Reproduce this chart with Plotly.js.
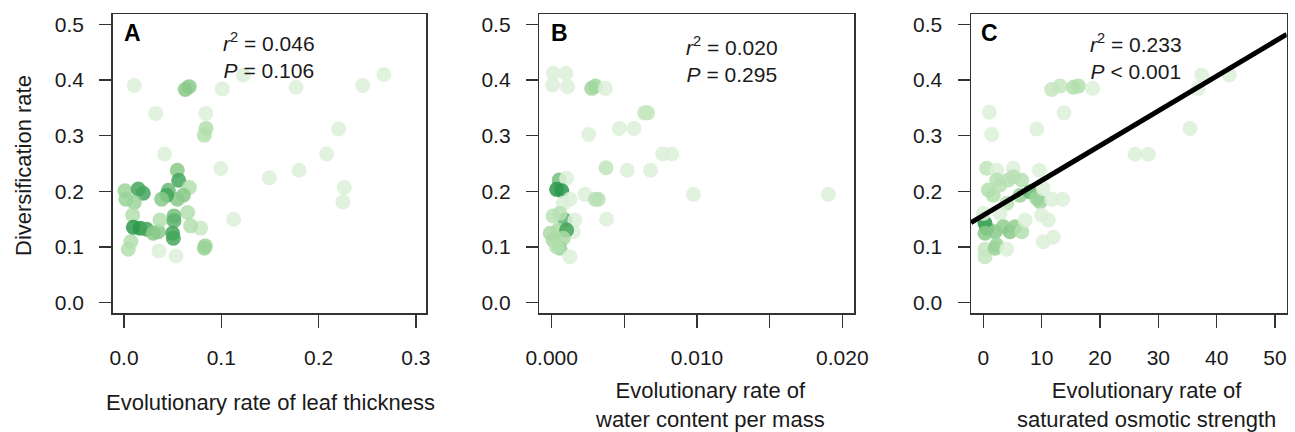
<!DOCTYPE html>
<html>
<head>
<meta charset="utf-8">
<script src="https://cdn.plot.ly/plotly-3.0.1.min.js"></script>
<style>
  html, body { margin: 0; padding: 0; background: #fff; }
  #chart { width: 1295px; height: 432px; }
</style>
</head>
<body>
<div id="chart"></div>
<script>
// ---------- DATA ----------
// Panel A: evolutionary rate of leaf thickness
const leafThicknessRate = [0.0106,0.063,0.067,0.101,0.1226,0.1768,0.2453,0.2672,0.0326,0.084,0.0843,0.0826,0.2206,0.0418,0.2083,0.0994,0.1494,0.1799,0.2264,0.225,0.1127,0.0534,0.036,0.0044,0.0072,0.0826,0.0835,0.0788,0.0685,0.0654,0.0548,0.0562,0.0672,0.061,0.0548,0.0456,0.0439,0.0387,0.001,0.002,0.0147,0.0198,0.0106,0.0089,0.0096,0.0165,0.0233,0.0301,0.0353,0.037,0.0514,0.0514,0.050,0.0507];
const divRateA = [0.390,0.383,0.388,0.384,0.409,0.387,0.390,0.410,0.340,0.340,0.313,0.301,0.312,0.267,0.267,0.241,0.2245,0.238,0.207,0.181,0.150,0.084,0.093,0.096,0.110,0.098,0.102,0.134,0.138,0.162,0.238,0.220,0.207,0.193,0.186,0.202,0.193,0.186,0.201,0.186,0.204,0.1965,0.180,0.1575,0.1354,0.1336,0.1318,0.1246,0.1275,0.1485,0.1557,0.1473,0.1246,0.1157];
const shadeA = [0,0.6,0.6,0,0,0,0,0,0,0,0.35,0.35,0,0,0,0,0,0,0,0,0,0,0,0.35,0.35,0.5,0.5,0.15,0.35,0.35,0.6,0.9,0.35,0.6,0.6,0.75,0.9,0.6,0.5,0.5,0.9,0.9,0.5,0.35,1,1,0.9,0.6,0.6,0.35,0.7,0.8,0.9,0.9];

// Panel B: evolutionary rate of water content per mass
const waterContentRate = [0.00011,0.00098,0.00007,0.0011,0.00275,0.0030,0.0037,0.0064,0.0066,0.00465,0.00566,0.00255,0.00764,0.00826,0.00374,0.0052,0.0068,0.00975,0.01904,0.00052,0.00103,0.00034,0.00069,0.00229,0.0030,0.0032,0.00126,0.0008,0.00378,0.00092,0.0001,0.00057,0.0016,0.0015,-0.0001,0.00045,0.00103,0.0001,0.0008,0.00057,0.00126,0.00034];
const divRateB = [0.412,0.412,0.391,0.388,0.385,0.389,0.385,0.341,0.341,0.313,0.313,0.302,0.267,0.267,0.2425,0.238,0.238,0.1946,0.1946,0.2204,0.2234,0.2036,0.201,0.1946,0.1857,0.1857,0.1857,0.1785,0.1498,0.1485,0.1557,0.1605,0.1485,0.1275,0.1246,0.1306,0.1306,0.1126,0.1157,0.0977,0.0826,0.1006];
const shadeB = [0,0,0,0,0.45,0.45,0,0.2,0.2,0,0,0,0,0,0.25,0,0,0,0,0.7,0,1,1,0,0.3,0.3,0,0,0,0.8,0.3,0.3,0,0,0.4,0.4,0.9,0.4,0.4,0.5,0,0.35];

// Panel C: evolutionary rate of saturated osmotic strength
const osmoticRate = [1.03,1.44,9.15,11.72,13.15,13.83,15.43,16.28,18.75,26.0,28.28,35.43,36.85,37.43,42.17,0.58,2.3,5.14,9.6,0.86,1.71,2.3,2.86,4.29,5.14,6.58,6.29,8.0,9.15,9.72,10.28,11.72,13.6,4.0,2.86,0.29,0.58,0.29,2.0,3.43,4.58,5.43,6.58,7.15,10.0,11.14,10.28,12.0,0.29,0.29,2.0,2.3,4.0,0];
const divRateC = [0.342,0.302,0.312,0.383,0.389,0.341,0.387,0.389,0.385,0.2665,0.2665,0.313,0.385,0.409,0.409,0.2414,0.238,0.2414,0.238,0.2024,0.193,0.2204,0.2114,0.2204,0.226,0.2204,0.193,0.1993,0.1875,0.1814,0.2054,0.1857,0.1857,0.1785,0.1605,0.1426,0.1336,0.1246,0.1275,0.1365,0.1275,0.1365,0.1275,0.1485,0.1575,0.1485,0.1096,0.1175,0.0959,0.0826,0.0977,0.1036,0.0959,0.1605];
const shadeC = [0,0,0,0.2,0.2,0,0.35,0.35,0,0,0,0,0,0,0,0.25,0,0,0,0.35,0.35,0.3,0.3,0.3,0.3,0.3,0.5,0.75,0.5,0.5,0,0,0,0.3,0,1,0.9,0.6,0.6,0.55,0.6,0.55,0.35,0,0,0,0,0,0.2,0.2,0.5,0.5,0,0];

// Regression fit shown in panel C (intercept, slope)
const fitC = [0.157, 0.00625];

// Statistics text
const statsA = ["0.046", "= 0.106"];
const statsB = ["0.020", "= 0.295"];
const statsC = ["0.233", "&lt; 0.001"];

// Tick labels
const yTicks = [0, 0.1, 0.2, 0.3, 0.4, 0.5];
const yTickText = ["0.0", "0.1", "0.2", "0.3", "0.4", "0.5"];
const xTicksA = [0, 0.1, 0.2, 0.3];
const xTickTextA = ["0.0", "0.1", "0.2", "0.3"];
const xTicksB = [0, 0.01, 0.02];
const xTickTextB = ["0.000", "0.010", "0.020"];
const xMinorStepB = 0.005;
const xTicksC = [0, 10, 20, 30, 40, 50];
const xTickTextC = ["0", "10", "20", "30", "40", "50"];

// ---------- STYLE / LAYOUT ----------
const W = 1295, H = 432;
const px = v => v / W;
const py = v => 1 - v / H;
const FONT = "Liberation Sans, Arial, Helvetica, sans-serif";
const TXT = "#1a1a1a";
const greens = [[0, "#dcf0d8"], [0.35, "#b3dfae"], [0.65, "#80c684"], [1, "#2c994c"]];

function pts(x, y, shade, xa, ya) {
  return {
    type: "scatter", mode: "markers", x: x, y: y, xaxis: xa, yaxis: ya,
    hoverinfo: "x+y",
    marker: { size: 15, color: shade, colorscale: greens, cmin: 0, cmax: 1,
              opacity: 0.85, line: { width: 0 } },
    showlegend: false
  };
}

const xRangeC = [-2.11, 52.0];
const fitX = xRangeC.slice();
const fitY = fitX.map(v => fitC[0] + fitC[1] * v);

const traces = [
  pts(leafThicknessRate, divRateA, shadeA, "x", "y"),
  pts(waterContentRate, divRateB, shadeB, "x2", "y2"),
  pts(osmoticRate, divRateC, shadeC, "x3", "y3"),
  { type: "scatter", mode: "lines", x: fitX, y: fitY, xaxis: "x3", yaxis: "y3",
    line: { color: "#000", width: 5 }, showlegend: false, hoverinfo: "skip" }
];

const yDom = [py(313), py(14)];
function xAxis(dom, range, tv, tt) {
  return {
    domain: dom, range: range, tickmode: "array", tickvals: tv, ticktext: tt,
    showgrid: false, zeroline: false, showline: true, mirror: true,
    linecolor: "#333", linewidth: 1.5, ticks: "outside", ticklen: 13,
    tickwidth: 1.3, tickcolor: "#333", ticklabelstandoff: 12,
    tickfont: { family: FONT, size: 21, color: TXT }, fixedrange: true
  };
}
function yAxis(anchor) {
  return {
    domain: yDom, range: [-0.0185, 0.5185], tickmode: "array", tickvals: yTicks, ticktext: yTickText,
    anchor: anchor, showgrid: false, zeroline: false, showline: true, mirror: true,
    linecolor: "#333", linewidth: 1.5, ticks: "outside", ticklen: 12,
    tickwidth: 1.3, tickcolor: "#333", ticklabelstandoff: 11,
    tickfont: { family: FONT, size: 21, color: TXT }, fixedrange: true
  };
}

const xaxis2 = Object.assign(xAxis([px(539.3), px(854)], [-0.00085, 0.0208], xTicksB, xTickTextB), { anchor: "y2" });
xaxis2.minor = { tickmode: "linear", tick0: 0, dtick: xMinorStepB, ticks: "outside",
                 ticklen: 13, tickwidth: 1.3, tickcolor: "#333", showgrid: false };

const layout = {
  width: W, height: H,
  margin: { l: 0, r: 0, t: 0, b: 0 },
  paper_bgcolor: "#fff", plot_bgcolor: "#fff",
  font: { family: FONT, size: 21, color: TXT },
  xaxis: Object.assign(xAxis([px(112.7), px(426)], [-0.0116, 0.3104], xTicksA, xTickTextA), { anchor: "y" }),
  yaxis: yAxis("x"),
  xaxis2: xaxis2,
  yaxis2: yAxis("x2"),
  xaxis3: Object.assign(xAxis([px(971), px(1286.7)], xRangeC, xTicksC, xTickTextC), { anchor: "y3" }),
  yaxis3: yAxis("x3"),
  annotations: []
};

function ann(text, x, y, opts) {
  layout.annotations.push(Object.assign({
    text: text, xref: "paper", yref: "paper", x: px(x), y: py(y),
    showarrow: false, xanchor: "center", yanchor: "middle",
    font: { family: FONT, size: 22, color: TXT }
  }, opts || {}));
}

// panel letters
const LETTER = { family: FONT, size: 23, color: "#000" };
ann("<b>A</b>", 121.5, 33.5, { xanchor: "left", font: LETTER });
ann("<b>B</b>", 549, 33.5, { xanchor: "left", font: LETTER });
ann("<b>C</b>", 979, 33.5, { xanchor: "left", font: LETTER });

// statistics
function stats(s, cx, cy) {
  ann("<i>r</i><sup>2</sup> = " + s[0] + "<br><i>P</i> " + s[1], cx, cy,
      { align: "center", font: { family: FONT, size: 21, color: TXT } });
}
stats(statsA, 269, 55);
stats(statsB, 732, 59);
stats(statsC, 1136, 57);

// axis titles
ann("Diversification rate", 23, 166, { textangle: -90 });
ann("Evolutionary rate of leaf thickness", 270, 402);
ann("Evolutionary rate of<br>water content per mass", 710, 405, { align: "center" });
ann("Evolutionary rate of<br>saturated osmotic strength", 1146, 405, { align: "center" });

Plotly.newPlot("chart", traces, layout, { displayModeBar: false, staticPlot: true });
</script>
</body>
</html>
